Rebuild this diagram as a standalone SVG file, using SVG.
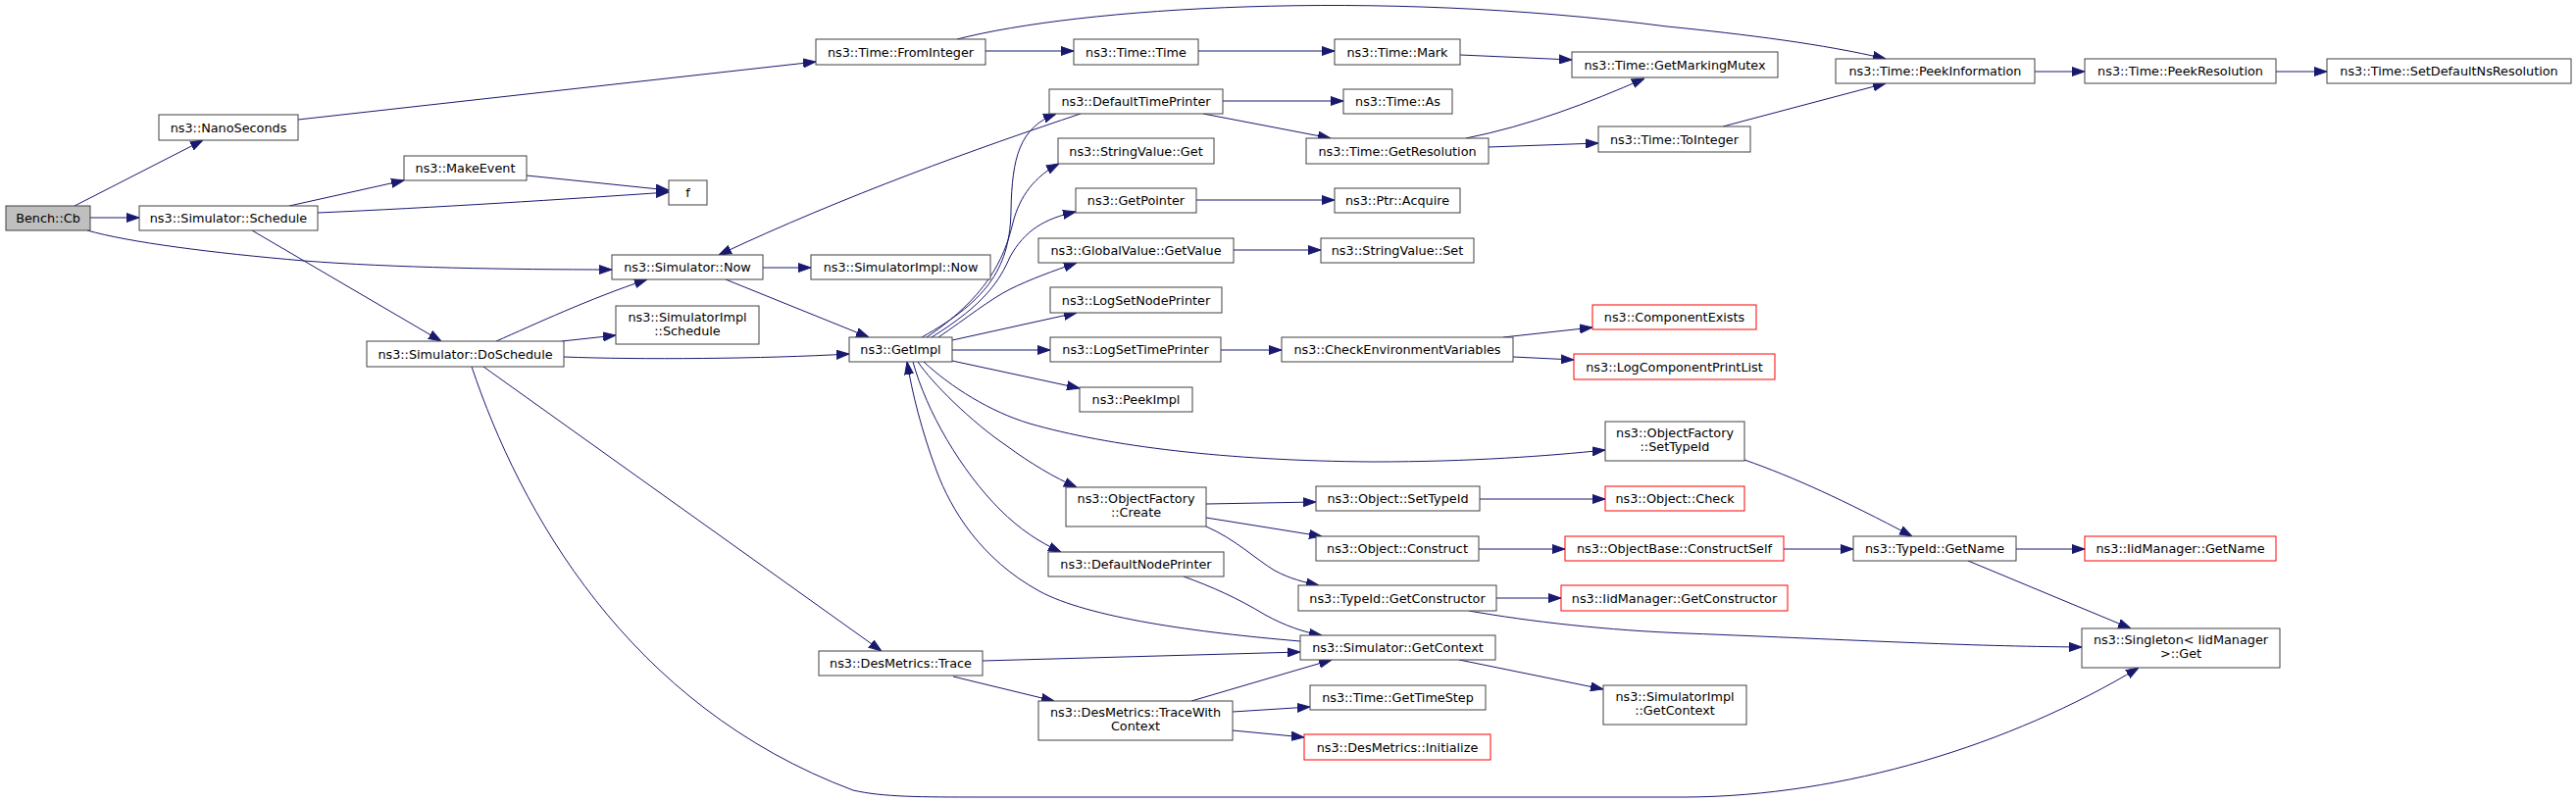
<svg xmlns="http://www.w3.org/2000/svg" width="2627" height="818" viewBox="0 0 2627 818">
<style>
.n rect{fill:#ffffff;stroke:#404040;stroke-width:1}
.n.root rect{fill:#bfbfbf}
.n.red rect{stroke:#ff0000}
.n text{font-family:"DejaVu Sans",sans-serif;font-size:12.8px;fill:#000000;text-anchor:middle}
#edges path{fill:none;stroke:#191970;stroke-width:1;marker-end:url(#ah)}
</style>
<defs>
<marker id="ah" markerWidth="13" markerHeight="10" refX="13" refY="5" orient="auto" markerUnits="userSpaceOnUse">
<path d="M0,0.5 L13,5 L0,9.5 z" fill="#191970" stroke="#191970" stroke-width="1"/>
</marker>
</defs>
<rect x="0" y="0" width="2627" height="818" fill="#ffffff"/>
<g id="edges">
<path d="M76,210 L207,143"/>
<path d="M92,222 L142,222"/>
<path d="M89,235 C131,247 216,258 310,266 C400,273 520,275 624,275"/>
<path d="M304,122 L832,63"/>
<path d="M295,210 L412,184"/>
<path d="M324,217 C440,212 580,203 682,196"/>
<path d="M537,179 L682,194"/>
<path d="M257,235 L450,348"/>
<path d="M506,348 C545,331 600,305 660,285"/>
<path d="M573,348 L628,342"/>
<path d="M575,364 C650,367 780,366 866,361"/>
<path d="M493,374 L899,664"/>
<path d="M481,374 C530,520 640,720 870,806 C900,813 940,813 1000,813 L1720,813 C1880,812 2050,760 2181,681"/>
<path d="M778,273 L827,273"/>
<path d="M740,285 L886,344"/>
<path d="M1102,116 C1000,150 860,200 733,260"/>
<path d="M940,344 C1010,305 1030,270 1031,215 C1032,160 1040,130 1077,116"/>
<path d="M945,344 C1010,300 1025,260 1033,227 C1040,200 1055,180 1080,167"/>
<path d="M950,344 C1005,310 1020,285 1030,262 C1045,235 1065,223 1097,216"/>
<path d="M957,344 C985,325 1010,305 1030,295 C1050,285 1075,276 1098,268"/>
<path d="M971,347 L1098,319"/>
<path d="M971,357 L1071,357"/>
<path d="M971,368 L1101,396"/>
<path d="M942,369 C970,395 1010,420 1050,432 C1130,455 1250,470 1400,471 C1500,471 1580,465 1637,459"/>
<path d="M936,369 C950,390 990,430 1027,455 C1050,472 1075,487 1098,497"/>
<path d="M931,369 C945,420 980,480 1020,520 C1040,540 1060,553 1082,563"/>
<path d="M1326,654 C1220,645 1110,630 1060,603 C1000,570 970,520 955,480 C940,440 930,400 925,369"/>
<path d="M1005,52 L1095,52"/>
<path d="M976,40 C1100,8 1400,-12 1700,27 C1780,35 1860,45 1923,60"/>
<path d="M1222,52 L1361,52"/>
<path d="M1489,56 L1603,61"/>
<path d="M1247,103 L1370,103"/>
<path d="M1227,116 L1357,141"/>
<path d="M1495,141 C1560,128 1620,105 1677,80"/>
<path d="M1518,150 L1630,146"/>
<path d="M1757,129 L1923,85"/>
<path d="M2075,73 L2126,73"/>
<path d="M2321,73 L2373,73"/>
<path d="M1220,204 L1361,204"/>
<path d="M1258,255 L1347,255"/>
<path d="M1245,357 L1307,357"/>
<path d="M1533,344 L1624,334"/>
<path d="M1543,364 L1605,367"/>
<path d="M1230,514 L1342,512"/>
<path d="M1230,528 L1348,547"/>
<path d="M1230,537 C1260,550 1280,570 1300,582 C1315,590 1330,594 1345,597"/>
<path d="M1509,509 L1637,509"/>
<path d="M1508,560 L1596,560"/>
<path d="M1819,560 L1890,560"/>
<path d="M1779,469 C1830,487 1880,510 1950,547"/>
<path d="M2056,560 L2126,560"/>
<path d="M2007,572 L2173,641"/>
<path d="M1526,610 L1592,610"/>
<path d="M1498,623 C1560,634 1640,643 1720,646 C1900,653 2000,659 2123,660"/>
<path d="M1488,673 L1635,703"/>
<path d="M1002,674 L1326,665"/>
<path d="M972,690 L1075,715"/>
<path d="M1215,715 L1358,673"/>
<path d="M1257,726 L1336,721"/>
<path d="M1257,745 L1330,752"/>
<path d="M1207,588 C1235,598 1262,610 1290,627 C1310,638 1330,645 1348,648"/>
</g>
<g id="n0" class="n root"><rect x="6" y="210" width="86" height="25"/><text x="49" y="227">Bench::Cb</text></g>
<g id="n1" class="n"><rect x="162" y="117" width="142" height="26"/><text x="233" y="134.5">ns3::NanoSeconds</text></g>
<g id="n2" class="n"><rect x="142" y="210" width="182" height="25"/><text x="233" y="227">ns3::Simulator::Schedule</text></g>
<g id="n3" class="n"><rect x="412" y="159" width="125" height="25"/><text x="474.5" y="176">ns3::MakeEvent</text></g>
<g id="n4" class="n"><rect x="374" y="348" width="201" height="26"/><text x="474.5" y="365.5">ns3::Simulator::DoSchedule</text></g>
<g id="n5" class="n"><rect x="832" y="40" width="173" height="26"/><text x="918.5" y="57.5">ns3::Time::FromInteger</text></g>
<g id="n6" class="n"><rect x="682" y="184" width="39" height="25"/><text x="701.5" y="201">f</text></g>
<g id="n7" class="n"><rect x="624" y="260" width="154" height="25"/><text x="701" y="277">ns3::Simulator::Now</text></g>
<g id="n8" class="n"><rect x="827" y="260" width="183" height="25"/><text x="918.5" y="277">ns3::SimulatorImpl::Now</text></g>
<g id="n9" class="n"><rect x="628" y="312" width="146" height="39"/><text x="701" y="328">ns3::SimulatorImpl</text><text x="701" y="342">::Schedule</text></g>
<g id="n10" class="n"><rect x="866" y="344" width="105" height="25"/><text x="918.5" y="361">ns3::GetImpl</text></g>
<g id="n11" class="n"><rect x="1095" y="40" width="127" height="26"/><text x="1158.5" y="57.5">ns3::Time::Time</text></g>
<g id="n12" class="n"><rect x="1070" y="91" width="177" height="25"/><text x="1158.5" y="108">ns3::DefaultTimePrinter</text></g>
<g id="n13" class="n"><rect x="1079" y="141" width="159" height="26"/><text x="1158.5" y="158.5">ns3::StringValue::Get</text></g>
<g id="n14" class="n"><rect x="1097" y="192" width="123" height="25"/><text x="1158.5" y="209">ns3::GetPointer</text></g>
<g id="n15" class="n"><rect x="1059" y="243" width="199" height="25"/><text x="1158.5" y="260">ns3::GlobalValue::GetValue</text></g>
<g id="n16" class="n"><rect x="1071" y="293" width="175" height="26"/><text x="1158.5" y="310.5">ns3::LogSetNodePrinter</text></g>
<g id="n17" class="n"><rect x="1071" y="344" width="174" height="25"/><text x="1158" y="361">ns3::LogSetTimePrinter</text></g>
<g id="n18" class="n"><rect x="1101" y="395" width="115" height="25"/><text x="1158.5" y="412">ns3::PeekImpl</text></g>
<g id="n19" class="n"><rect x="1087" y="497" width="143" height="40"/><text x="1158.5" y="513">ns3::ObjectFactory</text><text x="1158.5" y="527">::Create</text></g>
<g id="n20" class="n"><rect x="1069" y="563" width="179" height="25"/><text x="1158.5" y="580">ns3::DefaultNodePrinter</text></g>
<g id="n21" class="n"><rect x="835" y="664" width="167" height="25"/><text x="918.5" y="681">ns3::DesMetrics::Trace</text></g>
<g id="n22" class="n"><rect x="1059" y="715" width="198" height="40"/><text x="1158" y="731">ns3::DesMetrics::TraceWith</text><text x="1158" y="745">Context</text></g>
<g id="n23" class="n"><rect x="1361" y="40" width="128" height="26"/><text x="1425" y="57.5">ns3::Time::Mark</text></g>
<g id="n24" class="n"><rect x="1370" y="91" width="111" height="25"/><text x="1425.5" y="108">ns3::Time::As</text></g>
<g id="n25" class="n"><rect x="1332" y="141" width="186" height="26"/><text x="1425" y="158.5">ns3::Time::GetResolution</text></g>
<g id="n26" class="n"><rect x="1361" y="192" width="128" height="25"/><text x="1425" y="209">ns3::Ptr::Acquire</text></g>
<g id="n27" class="n"><rect x="1347" y="243" width="156" height="25"/><text x="1425" y="260">ns3::StringValue::Set</text></g>
<g id="n28" class="n"><rect x="1307" y="344" width="236" height="25"/><text x="1425" y="361">ns3::CheckEnvironmentVariables</text></g>
<g id="n29" class="n"><rect x="1603" y="53" width="210" height="26"/><text x="1708" y="70.5">ns3::Time::GetMarkingMutex</text></g>
<g id="n30" class="n"><rect x="1630" y="129" width="155" height="26"/><text x="1707.5" y="146.5">ns3::Time::ToInteger</text></g>
<g id="n31" class="n red"><rect x="1624" y="311" width="167" height="25"/><text x="1707.5" y="328">ns3::ComponentExists</text></g>
<g id="n32" class="n red"><rect x="1605" y="361" width="205" height="26"/><text x="1707.5" y="378.5">ns3::LogComponentPrintList</text></g>
<g id="n33" class="n"><rect x="1637" y="430" width="142" height="40"/><text x="1708" y="446">ns3::ObjectFactory</text><text x="1708" y="460">::SetTypeId</text></g>
<g id="n34" class="n"><rect x="1342" y="496" width="167" height="25"/><text x="1425.5" y="513">ns3::Object::SetTypeId</text></g>
<g id="n35" class="n red"><rect x="1637" y="496" width="142" height="25"/><text x="1708" y="513">ns3::Object::Check</text></g>
<g id="n36" class="n"><rect x="1342" y="547" width="166" height="25"/><text x="1425" y="564">ns3::Object::Construct</text></g>
<g id="n37" class="n red"><rect x="1596" y="547" width="223" height="25"/><text x="1707.5" y="564">ns3::ObjectBase::ConstructSelf</text></g>
<g id="n38" class="n"><rect x="1324" y="597" width="202" height="26"/><text x="1425" y="614.5">ns3::TypeId::GetConstructor</text></g>
<g id="n39" class="n red"><rect x="1592" y="597" width="231" height="26"/><text x="1707.5" y="614.5">ns3::IidManager::GetConstructor</text></g>
<g id="n40" class="n"><rect x="1326" y="648" width="199" height="25"/><text x="1425.5" y="665">ns3::Simulator::GetContext</text></g>
<g id="n41" class="n"><rect x="1336" y="699" width="179" height="25"/><text x="1425.5" y="716">ns3::Time::GetTimeStep</text></g>
<g id="n42" class="n red"><rect x="1330" y="749" width="190" height="26"/><text x="1425" y="766.5">ns3::DesMetrics::Initialize</text></g>
<g id="n43" class="n"><rect x="1635" y="699" width="146" height="40"/><text x="1708" y="715">ns3::SimulatorImpl</text><text x="1708" y="729">::GetContext</text></g>
<g id="n44" class="n"><rect x="1872" y="60" width="203" height="25"/><text x="1973.5" y="77">ns3::Time::PeekInformation</text></g>
<g id="n45" class="n"><rect x="2126" y="60" width="195" height="25"/><text x="2223.5" y="77">ns3::Time::PeekResolution</text></g>
<g id="n46" class="n"><rect x="2373" y="60" width="249" height="25"/><text x="2497.5" y="77">ns3::Time::SetDefaultNsResolution</text></g>
<g id="n47" class="n"><rect x="1890" y="547" width="166" height="25"/><text x="1973" y="564">ns3::TypeId::GetName</text></g>
<g id="n48" class="n red"><rect x="2126" y="547" width="195" height="25"/><text x="2223.5" y="564">ns3::IidManager::GetName</text></g>
<g id="n49" class="n"><rect x="2123" y="641" width="202" height="40"/><text x="2224" y="657">ns3::Singleton&lt; IidManager</text><text x="2224" y="671">&gt;::Get</text></g>
</svg>
